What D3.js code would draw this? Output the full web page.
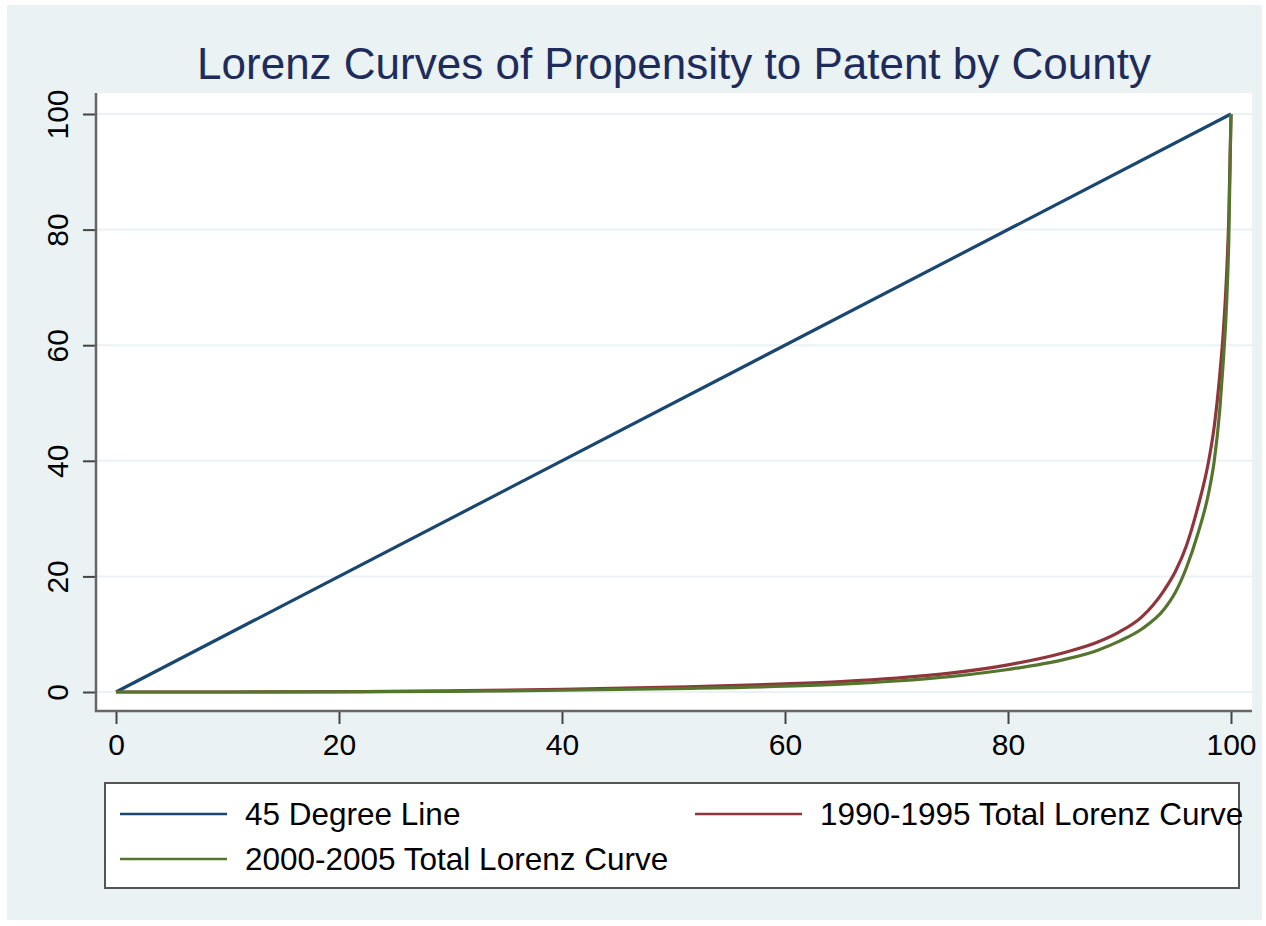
<!DOCTYPE html>
<html>
<head>
<meta charset="utf-8">
<script src="https://cdn.jsdelivr.net/npm/d3@7"></script>
<style>
  body { margin: 0; background: #fff; }
  svg { display: block; font-family: "Liberation Sans", Arial, sans-serif; }
</style>
</head>
<body>
<svg id="chart" width="1266" height="926"></svg>
<script>
// data
const pctPop = [0, 10, 20, 30, 40, 50, 60, 65, 70, 75, 80, 85, 88, 90, 92, 94, 95, 96, 97, 98, 98.5, 99, 99.3, 99.6, 99.8, 100];
const lorenz1990 = [0, 0, 0.05, 0.2, 0.45, 0.85, 1.4, 1.8, 2.4, 3.3, 4.7, 6.8, 8.6, 10.4, 13.0, 17.6, 20.8, 25.3, 31.8, 40, 46, 55, 62, 72, 82, 100];
const lorenz2000 = [0, 0, 0.03, 0.12, 0.3, 0.6, 1.0, 1.35, 1.9, 2.7, 3.9, 5.6, 7.2, 8.8, 10.9, 14.3, 17.2, 21.5, 27.2, 34.5, 40, 49, 57, 67, 78, 100];
const diagonal = [0, 100];
const xTicks = [0, 20, 40, 60, 80, 100];
const yTicks = [0, 20, 40, 60, 80, 100];
const seriesNames = ["45 Degree Line", "1990-1995 Total Lorenz Curve", "2000-2005 Total Lorenz Curve"];
const seriesColors = ["#1a476f", "#90353b", "#55752f"];

const svg = d3.select("#chart");

// background
svg.append("rect")
  .attr("x", 7).attr("y", 5)
  .attr("width", 1255).attr("height", 915)
  .attr("fill", "#eaf2f3");

const plotL = 96, plotR = 1252, plotT = 93, plotB = 711;

const x = d3.scaleLinear().domain([0, 100]).range([116, 1231]);
const y = d3.scaleLinear().domain([0, 100]).range([692, 114]);

svg.append("rect")
  .attr("x", plotL).attr("y", plotT)
  .attr("width", plotR - plotL).attr("height", plotB - plotT)
  .attr("fill", "#fff");

// title
svg.append("text")
  .attr("x", (plotL + plotR) / 2).attr("y", 79)
  .attr("text-anchor", "middle")
  .attr("font-size", 44)
  .attr("fill", "#1e2c5c")
  .text("Lorenz Curves of Propensity to Patent by County");

// gridlines
svg.append("g")
  .selectAll("line")
  .data(yTicks)
  .join("line")
  .attr("x1", plotL).attr("x2", plotR)
  .attr("y1", d => y(d)).attr("y2", d => y(d))
  .attr("stroke", "#eaf2f3")
  .attr("stroke-width", 2);

// lines
const line = d3.line()
  .x(d => x(d[0]))
  .y(d => y(d[1]))
  .curve(d3.curveMonotoneX);

const series = [
  diagonal.map(v => [v, v]),
  pctPop.map((p, i) => [p, lorenz1990[i]]),
  pctPop.map((p, i) => [p, lorenz2000[i]])
];

svg.append("g")
  .selectAll("path")
  .data(series)
  .join("path")
  .attr("d", line)
  .attr("fill", "none")
  .attr("stroke", (d, i) => seriesColors[i])
  .attr("stroke-width", 3.2);

// axes
const xAxis = svg.append("g")
  .attr("transform", `translate(0,${plotB})`)
  .call(d3.axisBottom(x).tickValues(xTicks).tickSize(13).tickPadding(10).tickSizeOuter(0));

const yAxis = svg.append("g")
  .attr("transform", `translate(${plotL},0)`)
  .call(d3.axisLeft(y).tickValues(yTicks).tickSize(13).tickSizeOuter(0));

[xAxis, yAxis].forEach(ax => {
  ax.select(".domain").remove();
  ax.selectAll(".tick line").attr("stroke", "#444").attr("stroke-width", 2);
  ax.selectAll(".tick text").attr("font-size", 30).attr("fill", "#000")
    .attr("font-family", "Liberation Sans, Arial, sans-serif");
});

yAxis.selectAll(".tick text")
  .attr("x", null).attr("dy", null)
  .attr("text-anchor", "middle")
  .attr("transform", "translate(-28,0) rotate(-90)");

// axis lines
svg.append("path")
  .attr("d", `M${plotL},${plotT}V${plotB}H${plotR}`)
  .attr("fill", "none")
  .attr("stroke", "#666")
  .attr("stroke-width", 2.5);

// legend
const legend = svg.append("g");
legend.append("rect")
  .attr("x", 105).attr("y", 783)
  .attr("width", 1134).attr("height", 105)
  .attr("fill", "#fff")
  .attr("stroke", "#555")
  .attr("stroke-width", 2);

const legendPos = [
  { lx: 120, ly: 814 },
  { lx: 695, ly: 814 },
  { lx: 120, ly: 859 }
];

const items = legend.selectAll("g.item")
  .data(seriesNames)
  .join("g")
  .attr("class", "item")
  .attr("transform", (d, i) => `translate(${legendPos[i].lx},${legendPos[i].ly})`);

items.append("line")
  .attr("x1", 0).attr("x2", 107)
  .attr("stroke", (d, i) => seriesColors[i])
  .attr("stroke-width", 2.5);

items.append("text")
  .attr("x", 125)
  .attr("y", 11)
  .attr("font-size", 31.5)
  .attr("fill", "#000")
  .text(d => d);
</script>
</body>
</html>
